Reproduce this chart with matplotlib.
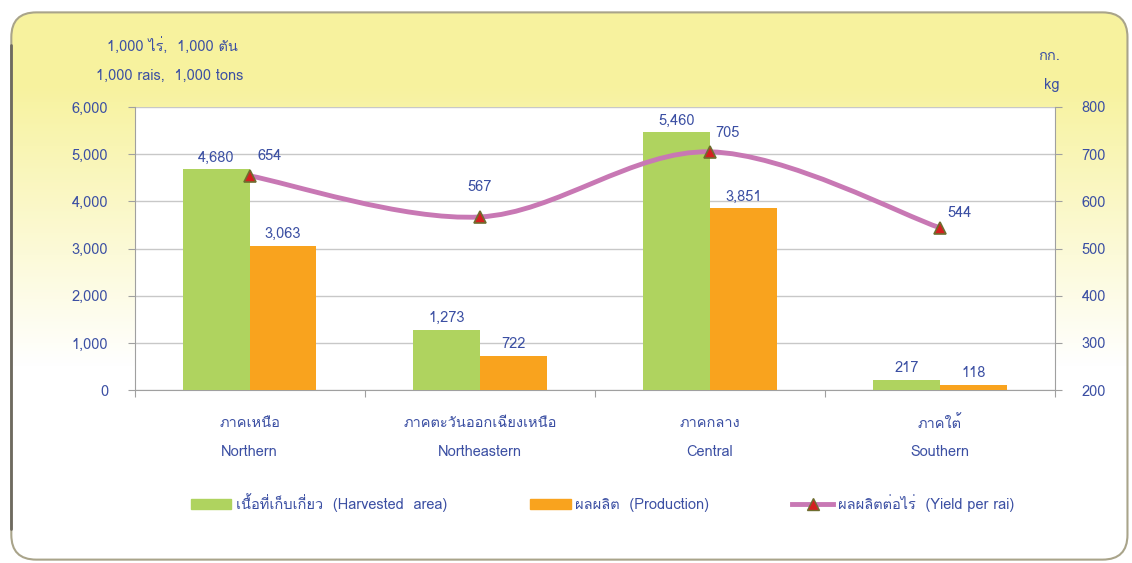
import matplotlib
matplotlib.use("Agg")
import matplotlib.pyplot as plt
import numpy as np
from matplotlib import font_manager, ft2font
from matplotlib.path import Path
from matplotlib.patches import PathPatch, FancyBboxPatch, Patch
from matplotlib.lines import Line2D
from matplotlib.ticker import FuncFormatter

# pick an installed font that can draw Thai, if there is one
thai = []
for fe in font_manager.fontManager.ttflist:
    try:
        if 0x0E01 in ft2font.FT2Font(fe.fname).get_charmap() and fe.name not in thai:
            thai.append(fe.name)
    except Exception:
        pass
plt.rcParams["font.family"] = thai[:1] + ["DejaVu Sans"]
plt.rcParams["font.size"] = 10.5

regions_th = ["ภาคเหนือ", "ภาคตะวันออกเฉียงเหนือ", "ภาคกลาง", "ภาคใต้"]
regions_en = ["Northern", "Northeastern", "Central", "Southern"]
area = [4680, 1273, 5460, 217]
production = [3063, 722, 3851, 118]
yield_rai = [654, 567, 705, 544]

BLUE = "#3B4FA3"
GREEN = "#AFD35F"
ORANGE = "#F9A31E"
PINK = "#C878B4"

fig = plt.figure(figsize=(11.32, 5.63), dpi=100)

# yellow rounded frame with a gradient fading downwards
bg = fig.add_axes([0, 0, 1, 1], zorder=-10)
bg.set_xlim(0, 1); bg.set_ylim(0, 1); bg.axis("off")
frame = FancyBboxPatch((0.010, 0.006), 0.986, 0.972, boxstyle="round,pad=0,rounding_size=0.022",
                       transform=bg.transAxes, fc="none", ec="#A9A48A", lw=1.5,
                       mutation_aspect=2.0)
bg.add_patch(frame)
bg.plot([0.010, 0.010], [0.06, 0.92], color="#6E6A60", lw=2, solid_capstyle="round")
grad = np.linspace(0, 1, 256)[:, None]
cols = np.ones((256, 1, 3))
t = np.clip((grad - 0.35) / 0.5, 0, 1)
cols[:, :, 0] = 1 - 0.03 * t
cols[:, :, 1] = 1 - 0.05 * t
cols[:, :, 2] = 1 - 0.38 * t
im = bg.imshow(cols, extent=(0, 1, 0, 1), origin="lower", aspect="auto", zorder=-5)
im.set_clip_path(frame)

ax = fig.add_axes([0.119, 0.307, 0.813, 0.503])
ax.set_facecolor("white")
x = np.arange(len(area))
w = 0.29
ax.bar(x - w / 2, area, w, color=GREEN, zorder=3)
ax.bar(x + w / 2, production, w, color=ORANGE, zorder=3)
ax.set_xlim(-0.5, len(area) - 0.5)
ax.set_ylim(0, 6000)
ax.set_yticks(range(0, 6001, 1000))
ax.yaxis.set_major_formatter(FuncFormatter(lambda v, p: f"{v:,.0f}"))
ax.grid(axis="y", color="#C8C8C8", lw=1, zorder=0)
for s in ["top", "right"]:
    ax.spines[s].set_visible(False)
for s in ["left", "bottom"]:
    ax.spines[s].set_color("#A0A0A0")
ax.set_xticks(np.arange(-0.5, len(area), 1.0))
ax.set_xticklabels([])
ax.tick_params(axis="x", length=5, color="#A0A0A0")
ax.tick_params(axis="y", length=5, color="#A0A0A0", labelcolor=BLUE, pad=14)
for i in x:
    ax.text(i, -0.115, regions_th[i], transform=ax.get_xaxis_transform(), ha="center", va="center", color=BLUE)
    ax.text(i, -0.22, regions_en[i], transform=ax.get_xaxis_transform(), ha="center", va="center", color=BLUE)
for i in x:
    ax.text(i - w / 2, area[i] + 250, f"{area[i]:,}", ha="center", va="center", color=BLUE, zorder=5)
    ax.text(i + w / 2, production[i] + 250, f"{production[i]:,}", ha="center", va="center", color=BLUE, zorder=5)

ax2 = ax.twinx()
ax2.set_ylim(200, 800)
ax2.set_yticks(range(200, 801, 100))
for s in ["top", "left", "bottom"]:
    ax2.spines[s].set_visible(False)
ax2.spines["right"].set_color("#A0A0A0")
ax2.tick_params(axis="y", length=5, color="#A0A0A0", labelcolor=BLUE, pad=14)

# smoothed line (cubic Bezier through the points, like a spreadsheet smoothed line)
px = x.astype(float); py = np.array(yield_rai, float)
verts = [(px[0], py[0])]; codes = [Path.MOVETO]
ten = 1 / 6
for i in range(len(px) - 1):
    p0 = (px[i - 1], py[i - 1]) if i > 0 else (px[i], py[i])
    p3 = (px[i + 2], py[i + 2]) if i + 2 < len(px) else (px[i + 1], py[i + 1])
    c1 = (px[i] + (px[i + 1] - p0[0]) * ten, py[i] + (py[i + 1] - p0[1]) * ten)
    c2 = (px[i + 1] - (p3[0] - px[i]) * ten, py[i + 1] - (p3[1] - py[i]) * ten)
    verts += [c1, c2, (px[i + 1], py[i + 1])]
    codes += [Path.CURVE4] * 3
ax2.add_patch(PathPatch(Path(verts, codes), fc="none", ec=PINK, lw=3.5, zorder=4, capstyle="round"))
ax2.plot(px, py, ls="none", marker="^", ms=9, mfc="#D42020", mec="#6E6E30", mew=1.2, zorder=6)
offs = [(0.087, 42), (0.0, 64), (0.078, 40), (0.087, 32)]
for i in x:
    ax2.text(px[i] + offs[i][0], py[i] + offs[i][1], str(yield_rai[i]), ha="center", va="center",
             color=BLUE, zorder=7)

fig.text(0.0945, 0.917, "1,000 ไร่,  1,000 ตัน", ha="left", va="center", color=BLUE)
fig.text(0.085, 0.865, "1,000 rais,  1,000 tons", ha="left", va="center", color=BLUE)
fig.text(0.936, 0.900, "กก.", ha="right", va="center", color=BLUE)
fig.text(0.936, 0.849, "kg", ha="right", va="center", color=BLUE)

handles = [Patch(color=GREEN, label="เนื้อที่เก็บเกี่ยว  (Harvested  area)"),
           Patch(color=ORANGE, label="ผลผลิต  (Production)"),
           Line2D([], [], color=PINK, lw=3.5, marker="^", ms=9, mfc="#D42020", mec="#6E6E30",
                  label="ผลผลิตต่อไร่  (Yield per rai)")]
fig.legend(handles=handles, ncol=3, loc="center", bbox_to_anchor=(0.532, 0.107), frameon=False,
           labelcolor=BLUE, columnspacing=5.7, handlelength=2.8, handletextpad=0.3)

fig.savefig("out.png", dpi=100)
